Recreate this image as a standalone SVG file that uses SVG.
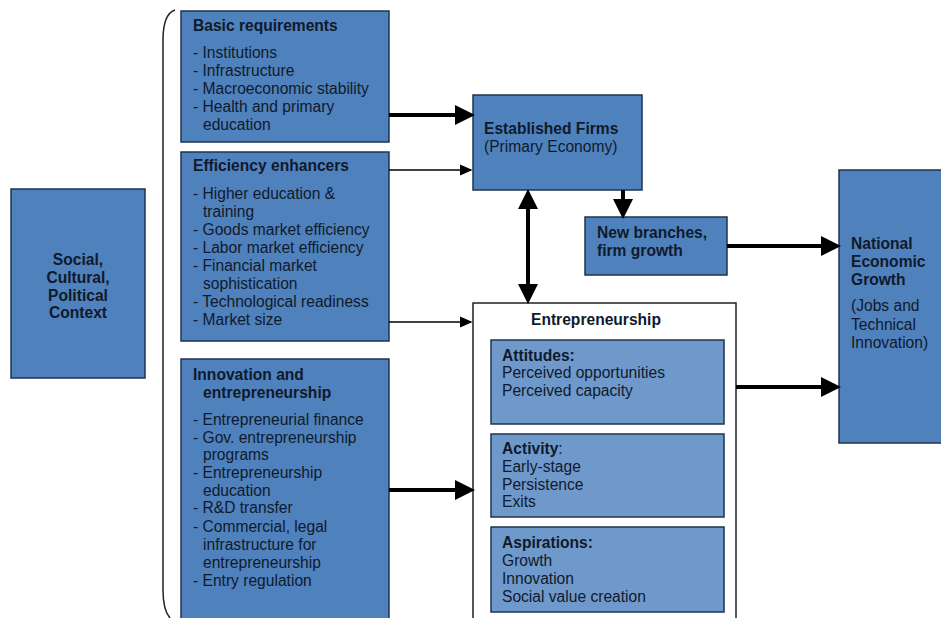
<svg xmlns="http://www.w3.org/2000/svg" width="941" height="618" viewBox="0 0 941 618">
<defs>
<style>
.box{fill:#4f81bd;stroke:#1e3350;stroke-width:1.5}
.inner{fill:#6f99cb;stroke:#1e3350;stroke-width:1.5}
.outer{fill:#ffffff;stroke:#222;stroke-width:1.5}
text{font-family:"Liberation Sans",Arial,sans-serif;font-size:15.6px;fill:#0f1a2b}
.b{font-weight:bold}
.thick{stroke:#000;stroke-width:4;fill:none}
.thin{stroke:#000;stroke-width:1.6;fill:none}
</style>
<marker id="ah" markerWidth="5" markerHeight="5" refX="4" refY="2.5" orient="auto" markerUnits="strokeWidth">
<path d="M0,0 L5,2.5 L0,5 z" fill="#000"/>
</marker>
<marker id="ahs" markerWidth="5" markerHeight="5" refX="4" refY="2.5" orient="auto-start-reverse" markerUnits="strokeWidth">
<path d="M0,0 L5,2.5 L0,5 z" fill="#000"/>
</marker>
<marker id="at" markerWidth="8" markerHeight="7" refX="7" refY="3.5" orient="auto" markerUnits="strokeWidth">
<path d="M0,0 L8,3.5 L0,7 z" fill="#000"/>
</marker>
</defs>
<rect width="941" height="618" fill="#fff"/>

<g id="brace">
<path d="M175,10 Q163,14 163,40 L163,590 Q163,610 170,618" fill="none" stroke="#222" stroke-width="1.5"/>
</g>

<g id="social">
<rect class="box" x="11" y="189" width="134" height="189"/>
<text class="b" x="78" y="265" text-anchor="middle">Social,</text>
<text class="b" x="78" y="283" text-anchor="middle">Cultural,</text>
<text class="b" x="78" y="301" text-anchor="middle">Political</text>
<text class="b" x="78" y="318" text-anchor="middle">Context</text>
</g>

<g id="basic">
<rect class="box" x="181" y="11" width="208" height="131"/>
<text class="b" x="193" y="31">Basic requirements</text>
<text x="193" y="58">- Institutions</text>
<text x="193" y="76">- Infrastructure</text>
<text x="193" y="94">- Macroeconomic stability</text>
<text x="193" y="112">- Health and primary</text>
<text x="203" y="130">education</text>
</g>

<g id="efficiency">
<rect class="box" x="181" y="152" width="208" height="189"/>
<text class="b" x="193" y="171">Efficiency enhancers</text>
<text x="193" y="199">- Higher education &amp;</text>
<text x="203" y="217">training</text>
<text x="193" y="235">- Goods market efficiency</text>
<text x="193" y="253">- Labor market efficiency</text>
<text x="193" y="271">- Financial market</text>
<text x="203" y="289">sophistication</text>
<text x="193" y="307">- Technological readiness</text>
<text x="193" y="325">- Market size</text>
</g>

<g id="innovation">
<rect class="box" x="181" y="359" width="208" height="265"/>
<text class="b" x="193" y="380">Innovation and</text>
<text class="b" x="203" y="398">entrepreneurship</text>
<text x="193" y="425">- Entrepreneurial finance</text>
<text x="193" y="443">- Gov. entrepreneurship</text>
<text x="203" y="460">programs</text>
<text x="193" y="478">- Entrepreneurship</text>
<text x="203" y="496">education</text>
<text x="193" y="513">- R&amp;D transfer</text>
<text x="193" y="532">- Commercial, legal</text>
<text x="203" y="550">infrastructure for</text>
<text x="203" y="568">entrepreneurship</text>
<text x="193" y="586">- Entry regulation</text>
</g>

<g id="established">
<rect class="box" x="473" y="95" width="169" height="95"/>
<text class="b" x="484" y="134">Established Firms</text>
<text x="484" y="152">(Primary Economy)</text>
</g>

<g id="newbranches">
<rect class="box" x="585" y="217" width="142" height="58"/>
<text class="b" x="597" y="238">New branches,</text>
<text class="b" x="597" y="256">firm growth</text>
</g>

<g id="entrepreneurship">
<rect class="outer" x="473" y="303" width="263" height="325"/>
<text class="b" x="596" y="325" text-anchor="middle">Entrepreneurship</text>
<rect class="inner" x="491" y="340" width="233" height="84"/>
<text class="b" x="502" y="361">Attitudes:</text>
<text x="502" y="378">Perceived opportunities</text>
<text x="502" y="396">Perceived capacity</text>
<rect class="inner" x="491" y="434" width="233" height="83"/>
<text x="502" y="454"><tspan class="b">Activity</tspan>:</text>
<text x="502" y="472">Early-stage</text>
<text x="502" y="490">Persistence</text>
<text x="502" y="507">Exits</text>
<rect class="inner" x="491" y="527" width="233" height="85"/>
<text class="b" x="502" y="548">Aspirations:</text>
<text x="502" y="566">Growth</text>
<text x="502" y="584">Innovation</text>
<text x="502" y="602">Social value creation</text>
</g>

<g id="national">
<rect class="box" x="839" y="170" width="110" height="273"/>
<text class="b" x="851" y="249">National</text>
<text class="b" x="851" y="267">Economic</text>
<text class="b" x="851" y="285">Growth</text>
<text x="851" y="311">(Jobs and</text>
<text x="851" y="330">Technical</text>
<text x="851" y="348">Innovation)</text>
</g>

<g id="connectors">
<line class="thick" x1="389" y1="115" x2="471" y2="115" marker-end="url(#ah)"/>
<line class="thin" x1="389" y1="170" x2="471" y2="170" marker-end="url(#at)"/>
<line class="thin" x1="389" y1="322" x2="471" y2="322" marker-end="url(#at)"/>
<line class="thick" x1="389" y1="490" x2="471" y2="490" marker-end="url(#ah)"/>
<line class="thick" x1="623" y1="190" x2="623" y2="215" marker-end="url(#ah)"/>
<line class="thick" x1="528" y1="193" x2="528" y2="300" marker-start="url(#ahs)" marker-end="url(#ah)"/>
<line class="thick" x1="727" y1="246" x2="837" y2="246" marker-end="url(#ah)"/>
<line class="thick" x1="736" y1="387" x2="837" y2="387" marker-end="url(#ah)"/>
</g>
</svg>
